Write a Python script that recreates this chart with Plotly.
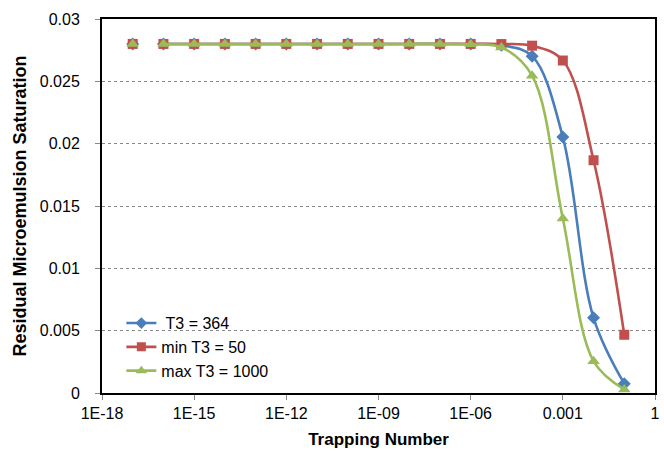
import plotly.graph_objects as go

trapping_number = [1e-17, 1e-16, 1e-15, 1e-14, 1e-13, 1e-12, 1e-11, 1e-10, 1e-09,
                   1e-08, 1e-07, 1e-06, 1e-05, 1e-04, 1e-03, 1e-02, 1e-01]

s_t3_364 = [0.028, 0.028, 0.028, 0.028, 0.028, 0.028, 0.028, 0.028, 0.028,
            0.028, 0.028, 0.02799, 0.0279, 0.02702, 0.02053, 0.00603, 0.00075]
s_min_t3_50 = [0.028, 0.028, 0.028, 0.028, 0.028, 0.028, 0.028, 0.028, 0.028,
               0.028, 0.028, 0.028, 0.02799, 0.02786, 0.02667, 0.01867, 0.00467]
s_max_t3_1000 = [0.028, 0.028, 0.028, 0.028, 0.028, 0.028, 0.028, 0.028, 0.028,
                 0.028, 0.028, 0.02797, 0.02772, 0.02545, 0.014, 0.00255, 0.00028]

series_names = [" T3 = 364", "min T3 = 50", "max T3 = 1000"]
series_values = [s_t3_364, s_min_t3_50, s_max_t3_1000]
colors = ["#4A7EBB", "#C0504D", "#9BBB59"]
symbols = ["diamond", "square", "triangle-up"]
sizes = [10, 10, 11]

x_tickvals = [1e-18, 1e-15, 1e-12, 1e-09, 1e-06, 1e-03, 1]
x_ticktext = ["1E-18", "1E-15", "1E-12", "1E-09", "1E-06", "0.001", "1"]

fig = go.Figure()
for name, vals, col, sym, sz in zip(series_names, series_values, colors, symbols, sizes):
    # smoothed line (starts from second point, as in the original)
    fig.add_trace(go.Scatter(
        x=trapping_number[1:], y=vals[1:], mode="lines",
        line=dict(color=col, width=2.6, shape="spline", smoothing=1),
        showlegend=False, hoverinfo="skip"))
    fig.add_trace(go.Scatter(
        x=trapping_number, y=vals, mode="markers", name=name,
        marker=dict(symbol=sym, size=sz, color=col),
        showlegend=False))
    # legend entry
    fig.add_trace(go.Scatter(
        x=[None], y=[None], mode="lines+markers", name=name,
        line=dict(color=col, width=2.6),
        marker=dict(symbol=sym, size=sz - 1, color=col)))

fig.update_layout(
    width=664, height=455,
    margin=dict(l=102, r=4, t=19, b=62),
    paper_bgcolor="white", plot_bgcolor="white",
    font=dict(family="Liberation Sans, Arial, sans-serif", size=16, color="black"),
    legend=dict(x=0.035, y=0.013, xanchor="left", yanchor="bottom",
                bgcolor="rgba(0,0,0,0)", font=dict(size=16),
                itemwidth=30, tracegroupgap=0),
    showlegend=True,
)
fig.update_xaxes(
    type="log", range=[-18, 0],
    tickvals=x_tickvals, ticktext=x_ticktext,
    showgrid=False, zeroline=False,
    showline=True, mirror=True, linecolor="black", linewidth=2,
    ticks="outside", ticklen=5, tickcolor="#888888",
    tickfont=dict(size=16),
    title=dict(text="<b>Trapping Number</b>", font=dict(size=17), standoff=12),
)
fig.update_yaxes(
    range=[0, 0.03], dtick=0.005, tick0=0,
    showgrid=True, gridcolor="#888888", griddash="dot", gridwidth=1,
    zeroline=False,
    showline=True, mirror=True, linecolor="black", linewidth=2,
    ticks="outside", ticklen=5, tickcolor="#888888",
    tickfont=dict(size=16), ticklabelstandoff=12,
    title=dict(text="<b>Residual Microemulsion Saturation</b>", font=dict(size=18), standoff=8),
)

fig.write_html("out.html")
